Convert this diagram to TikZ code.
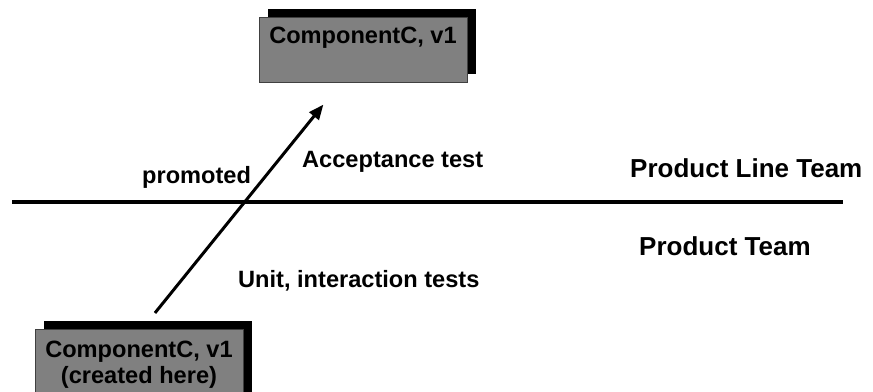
\documentclass[tikz,border=0pt]{standalone}
\usepackage{fontspec}
\setmainfont{Liberation Sans}
\usetikzlibrary{arrows.meta,shadows}
\begin{document}
\begin{tikzpicture}[x=1pt,y=-1pt,
  compbox/.style={draw=black!75,line width=0.8pt,fill=black!50,minimum width=208pt,inner sep=0pt,
    general shadow={fill=black,shadow xshift=9pt,shadow yshift=8pt}},
  lbl/.style={anchor=base west,inner sep=0pt,font=\bfseries\fontsize{23.6}{26}\selectfont},
  teamlbl/.style={anchor=base west,inner sep=0pt,font=\bfseries\fontsize{26}{30}\selectfont},
  boxtxt/.style={anchor=base,inner sep=0pt,font=\bfseries\fontsize{23.6}{26}\selectfont}]
\useasboundingbox (0,0) rectangle (873,391);
\fill[white] (0,0) rectangle (873,391);
% boxes
\node[compbox,minimum height=65pt,anchor=north] (top) at (363,17) {};
\node[compbox,minimum height=80pt,anchor=north] (bot) at (139,329) {};
\node[boxtxt] (toptxt) at (363,43) {ComponentC, v1};
\node[boxtxt] (bottxt1) at (139,357) {ComponentC, v1};
\node[boxtxt] (bottxt2) at (139,383) {(created here)};
% divider line
\coordinate (divL) at (12,202);
\coordinate (divR) at (843,202);
\draw[line width=3.2pt] (divL) -- (divR);
% arrow
\draw[line width=3pt,-{Triangle[length=15pt,width=12pt]},shorten <=20.6pt,shorten >=28pt]
  ([xshift=3pt]bot.north) -- ([xshift=-22pt]top.south);
% labels
\node[lbl] (promoted) at (142,183) {promoted};
\node[lbl] (accept) at (302,167) {Acceptance test};
\node[lbl] (unit) at (238,287) {Unit, interaction tests};
\node[teamlbl] (plt) at (630,177) {Product Line Team};
\node[teamlbl] (pt) at (639,255) {Product Team};
\end{tikzpicture}
\end{document}
